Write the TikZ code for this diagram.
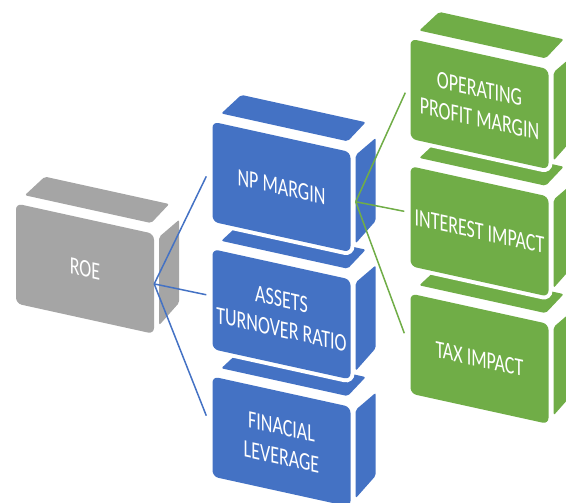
\documentclass[tikz,border=0pt]{standalone}
\usepackage{fontspec}
\newfontfamily\boxfont[FakeStretch=0.72]{Carlito}
\usetikzlibrary{positioning,calc,backgrounds}
\definecolor{roegray}{HTML}{A5A5A5}
\definecolor{npblue}{HTML}{4472C4}
\definecolor{opgreen}{HTML}{70AD47}
\tikzset{
  face/.style={rounded corners=6pt, minimum width=138pt, minimum height=100pt,
    inner sep=0pt, align=center, text=white, transform shape,
    preaction={draw=white, line width=8pt},
    font=\boxfont\fontsize{25}{30}\selectfont},
  link/.style={line width=1.5pt},
}

\begin{document}
\begin{tikzpicture}[x=1pt,y=1pt]
	\useasboundingbox (0,0) rectangle (566,503);
	\clip (0,0) rectangle (566,503);
	\begin{scope}[yslant=-0.22]
		
		\node(roe) [face, fill=roegray] at (85,253)                {ROE};
		\node(np) [face, fill=npblue] at (281.5,378)               {NP MARGIN};
		\node(assets) [face, fill=npblue, below=27pt of np]        {ASSETS\\TURNOVER RATIO};
		\node(fin) [face, fill=npblue, below=27pt of assets]       {FINACIAL\\LEVERAGE};
		\node(oper) [face, fill=opgreen] at (479.5,504.5)          {OPERATING\\PROFIT MARGIN};
		\node(interest) [face, fill=opgreen, below=27pt of oper]   {INTEREST IMPACT};
		\node(tax) [face, fill=opgreen, below=27pt of interest]    {TAX IMPACT};
		
		% top and side faces, kept behind the fronts
		\begin{pgfonlayer}{background}
			\foreach \n/\c in {roe/roegray, np/npblue, assets/npblue, fin/npblue, oper/opgreen, interest/opgreen, tax/opgreen}{
				\fill[\c, rounded corners=2pt] ($(\n.north west)+(9,10)$) -- ($(\n.north east)+(-3,10)$)
					-- ($(\n.north east)+(15,33)$) -- ($(\n.north west)+(29,33)$) -- cycle;
				\fill[\c, rounded corners=2pt] ($(\n.south east)+(5,10)$) -- ($(\n.north east)+(5,-2)$)
					-- ($(\n.north east)+(25,19.5)$) -- ($(\n.south east)+(25,37)$) -- cycle;
			}
		\end{pgfonlayer}
		
		\draw[link, npblue] (roe.east) -- ($(np.west)+(-6,-6)$);
		\draw[link, npblue] (roe.east) -- ($(assets.west)+(-6,3)$);
		\draw[link, npblue] (roe.east) -- ($(fin.west)+(-6,9.5)$);
		
		\draw[link, opgreen] ($(np.east)+(5,1.5)$) -- ($(oper.west)+(-5,-5)$);
		\draw[link, opgreen] ($(np.east)+(5,1.5)$) -- ($(interest.west)+(-6,3.5)$);
		\draw[link, opgreen] ($(np.east)+(5,1.5)$) -- ($(tax.west)+(-6,9)$);
		
	\end{scope}
\end{tikzpicture}
\end{document}
